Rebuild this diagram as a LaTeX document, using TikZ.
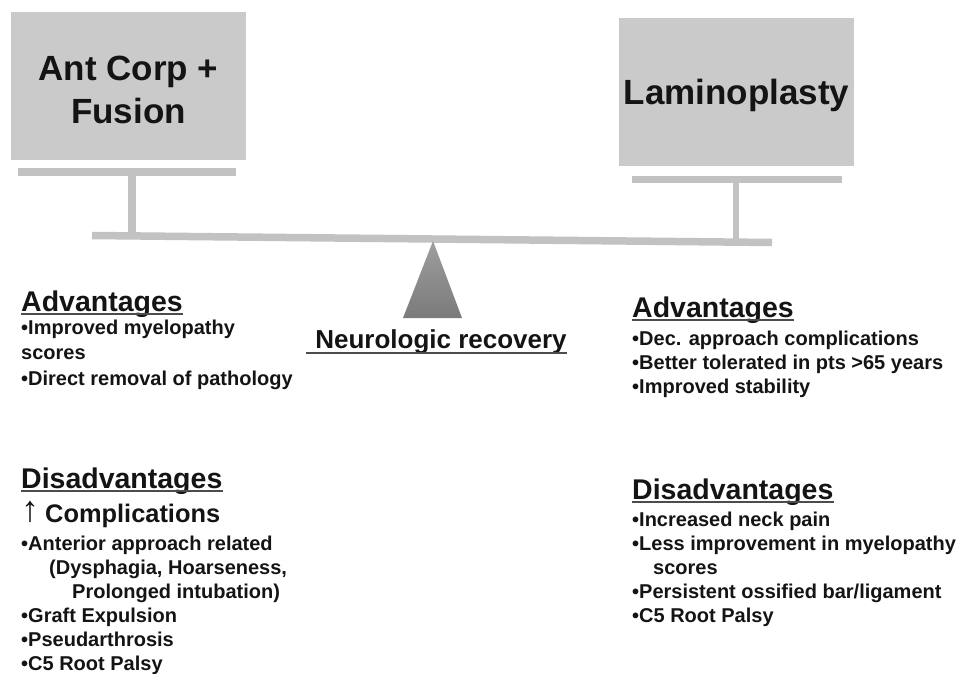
\documentclass[tikz,border=0pt]{standalone}
\usepackage{fontspec}
\setmainfont{Liberation Sans}
\usetikzlibrary{positioning}
\definecolor{panelColor}{HTML}{CACACA}
\definecolor{beamColor}{HTML}{C2C2C2}
\definecolor{inkColor}{HTML}{141414}

\tikzset{
  panel/.style={fill=panelColor, inner sep=0pt, minimum width=235pt, minimum height=148pt,
    align=center, text depth=0pt, text=inkColor, font=\fontsize{35}{43}\selectfont\bfseries},
  beam/.style={draw=beamColor, line width=7.5pt},
  heading/.style={inner sep=0pt, anchor=base west, text=inkColor, font=\fontsize{28.5}{34}\selectfont\bfseries},
  items/.style={inner sep=0pt, anchor=base west, text=inkColor, font=\fontsize{20}{24}\selectfont\bfseries},
  uline/.style={draw=black!70, line width=2pt}
}

\begin{document}
\begin{tikzpicture}[x=1pt,y=-1pt]
          \useasboundingbox (0,0) rectangle (964,674);
          % the two pans
          \node[panel] (fusion) at (128.5,86) {};
          \node[align=center, inner sep=0pt, text=inkColor, font=\fontsize{35}{43}\selectfont\bfseries] (fusionTxt)
            at ([yshift=-4pt]fusion.center) {Ant Corp +\\Fusion};
          \node[panel] (lamino) at (736.5,92) {Laminoplasty};
          % the seesaw
          \draw[beam] (92,235.5) -- (772,242.5);
          \draw[beam] (18,172) -- (236,172);
          \draw[beam] (132,172) -- (132,236);
          \draw[beam, line width=7pt] (632,179.5) -- (842,179.5);
          \draw[beam, line width=6pt] (736,179.5) -- (736,241);
          \shade[top color=black!38, middle color=black!28, bottom color=black!52] (433,241) -- (403,318) -- (462,318) -- cycle;
          \node[inner sep=0pt, anchor=base, text=inkColor, font=\fontsize{26}{30}\selectfont\bfseries] (neuro) at (441,348) {Neurologic recovery};
          \draw[uline] ([xshift=-9pt,yshift=-5pt]neuro.base west) -- ([yshift=-5pt]neuro.base east);
          % left side
          \node[heading] (advL) at (21,311) {Advantages};
          \draw[uline] ([yshift=-3pt]advL.base west) -- ([yshift=-3pt]advL.base east);
          \foreach \txt [count=\i from 0] in {•Improved myelopathy, scores, •Direct removal of pathology}
            \node[items] (advL-\i) at (21,334+25.5*\i) {\txt};
          \node[heading] (disL) at (21,488) {Disadvantages};
          \draw[uline] ([yshift=-3pt]disL.base west) -- ([yshift=-3pt]disL.base east);
          \node[items, font=\fontsize{25.4}{30}\selectfont\bfseries] (compl) at (21,522)
            {{\fontsize{36}{36}\selectfont\mdseries\raisebox{1pt}{↑}}\hspace{6pt}Complications};
          \foreach \txt [count=\i from 0] in {•Anterior approach related, {\hspace*{28pt}(Dysphagia, Hoarseness,},
              \hspace*{51pt}Prolonged intubation), •Graft Expulsion, •Pseudarthrosis, •C5 Root Palsy}
            \node[items] (disL-\i) at (21,550+24*\i) {\txt};
          % right side
          \node[heading] (advR) at (632,317) {Advantages};
          \draw[uline] ([yshift=-3pt]advR.base west) -- ([yshift=-3pt]advR.base east);
          \foreach \txt [count=\i from 0] in {•Dec. approach complications, •Better tolerated in pts >65 years, •Improved stability}
            \node[items] (advR-\i) at (632,345+24*\i) {\txt};
          \node[heading] (disR) at (632,499) {Disadvantages};
          \draw[uline] ([yshift=-3pt]disR.base west) -- ([yshift=-3pt]disR.base east);
          \foreach \txt [count=\i from 0] in {•Increased neck pain, •Less improvement in myelopathy, \hspace*{21pt}scores,
              •Persistent ossified bar/ligament, •C5 Root Palsy}
            \node[items] (disR-\i) at (632,526+24*\i) {\txt};
        \end{tikzpicture}
\end{document}
